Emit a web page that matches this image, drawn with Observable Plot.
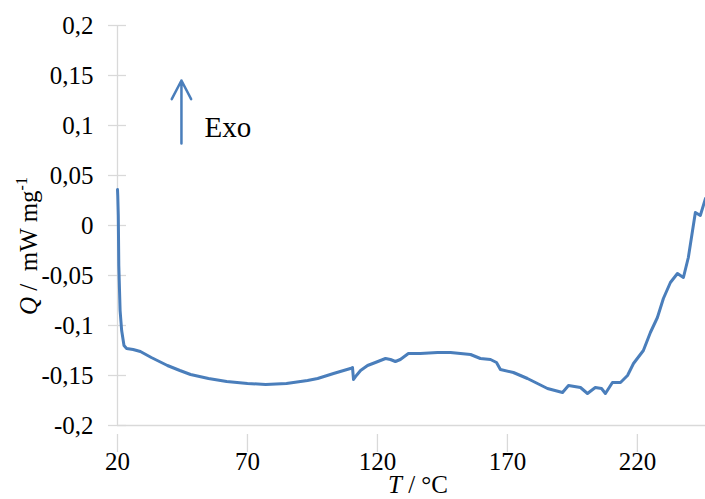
<!DOCTYPE html>
<html>
<head>
<meta charset="utf-8">
<script src="https://cdn.jsdelivr.net/npm/d3@7"></script>
<script src="https://cdn.jsdelivr.net/npm/@observablehq/plot@0.6"></script>
<style>
  html, body { margin: 0; padding: 0; background: #fff; }
  #chart { width: 705px; height: 499px; }
  #chart svg, #chart svg text { font-family: "Liberation Serif", "Times New Roman", serif; }
</style>
</head>
<body>
<div id="chart"></div>
<script>
// Temperature (°C)
const T = [20.0, 20.1, 20.3, 20.5, 21.0, 21.6, 22.5, 23.5, 26.0, 28.8, 33.0, 39.2, 44.0, 48.1, 55.0, 62.0, 70.0, 77.0, 85.0, 93.1, 97.0, 103.1, 107.0, 109.6, 110.4, 110.8, 111.9, 113.5, 116.2, 119.2, 123.1, 125.0, 126.9, 128.8, 131.9, 136.5, 143.1, 148.1, 155.8, 159.6, 163.5, 165.8, 167.3, 172.3, 177.7, 185.4, 191.2, 193.5, 198.1, 200.8, 203.8, 206.2, 207.7, 210.4, 213.5, 216.2, 218.5, 222.3, 225.0, 227.7, 230.0, 232.7, 235.4, 237.7, 239.6, 242.3, 244.2, 246.2];
// Heat flow Q (mW mg-1)
const Q = [0.036, 0.030, 0.010, -0.040, -0.085, -0.105, -0.120, -0.123, -0.124, -0.126, -0.132, -0.140, -0.145, -0.149, -0.153, -0.156, -0.158, -0.159, -0.158, -0.155, -0.153, -0.148, -0.145, -0.143, -0.142, -0.154, -0.150, -0.145, -0.140, -0.137, -0.133, -0.134, -0.136, -0.134, -0.128, -0.128, -0.127, -0.127, -0.129, -0.133, -0.134, -0.137, -0.144, -0.147, -0.153, -0.163, -0.167, -0.160, -0.162, -0.168, -0.162, -0.163, -0.168, -0.157, -0.157, -0.150, -0.138, -0.125, -0.107, -0.092, -0.073, -0.057, -0.048, -0.052, -0.032, 0.013, 0.010, 0.027];

const xTicks = [20, 70, 120, 170, 220];
const yTicks = [-0.2, -0.15, -0.1, -0.05, 0, 0.05, 0.1, 0.15, 0.2];
const xDomain = [20, 246.2];
const yDomain = [-0.2, 0.2];

// "Exo" annotation arrow (tail -> head) and label
const arrowT = [44.6, 44.6];
const arrowQ = [0.082, 0.145];
const exoLabel = "Exo";
const exoPos = [53.5, 0.098];

const data = T.map((t, i) => ({T: t, Q: Q[i]}));
const fmt = v => (v === 0 ? "0" : String(v).replace(".", ","));

const FONT = "'Liberation Serif', 'Times New Roman', serif";
const AXIS = "#d9d9d9";
const BLUE = "#4a7ebb";

const plot = Plot.plot({
  width: 705,
  height: 499,
  marginLeft: 117,
  marginRight: 0,
  marginTop: 25,
  marginBottom: 74,
  style: {fontFamily: FONT, fontSize: "25px", color: "#000", background: "#fff", overflow: "visible"},
  x: {domain: xDomain, label: null},
  y: {domain: yDomain, label: null},
  marks: [
    Plot.ruleX([xDomain[0]], {stroke: AXIS, strokeWidth: 1.3}),
    Plot.ruleY([yDomain[0]], {stroke: AXIS, strokeWidth: 1.3}),
    // crossing tick marks
    Plot.axisY({ticks: yTicks, tickSize: 18, dx: 9, tickFormat: () => "", stroke: AXIS, strokeWidth: 1.3, strokeOpacity: 1}),
    Plot.axisX({ticks: xTicks, tickSize: 18, dy: 9, tickFormat: () => "", stroke: AXIS, strokeWidth: 1.3, strokeOpacity: 1}),
    // tick labels
    Plot.axisY({ticks: yTicks, tickSize: 0, tickPadding: 24, tickFormat: fmt, fill: "#000", fontSize: 25, fontFamily: FONT}),
    Plot.axisX({ticks: xTicks, tickSize: 0, tickPadding: 27, tickFormat: d => String(d), fill: "#000", fontSize: 25, fontFamily: FONT}),
    Plot.line(data, {x: "T", y: "Q", stroke: BLUE, strokeWidth: 3, strokeLinejoin: "round"}),
    Plot.arrow([0], {x1: () => arrowT[0], y1: () => arrowQ[0], x2: () => arrowT[1], y2: () => arrowQ[1], stroke: BLUE, strokeWidth: 2.5, headLength: 13, headAngle: 55, bend: 0}),
    Plot.text([exoLabel], {x: () => exoPos[0], y: () => exoPos[1], text: d => d, textAnchor: "start", fontSize: 29, fontFamily: FONT, fill: "#000"})
  ]
});

document.getElementById("chart").appendChild(plot);

// Axis titles with italic symbols and superscript (real text)
const svg = d3.select(plot);
const xt = svg.append("text")
  .attr("x", 418).attr("y", 493)
  .attr("text-anchor", "middle")
  .attr("font-family", FONT).attr("font-size", 25).attr("fill", "#000");
xt.append("tspan").attr("font-style", "italic").text("T");
xt.append("tspan").text(" / °C");

const yt = svg.append("text")
  .attr("transform", "translate(37,246) rotate(-90)")
  .attr("text-anchor", "middle")
  .attr("font-family", FONT).attr("font-size", 25).attr("fill", "#000")
  .attr("xml:space", "preserve").style("white-space", "pre");
yt.append("tspan").attr("font-style", "italic").text("Q");
yt.append("tspan").text(" /  mW mg");
yt.append("tspan").attr("font-size", 16).attr("dy", -10).text("-1");
</script>
</body>
</html>
